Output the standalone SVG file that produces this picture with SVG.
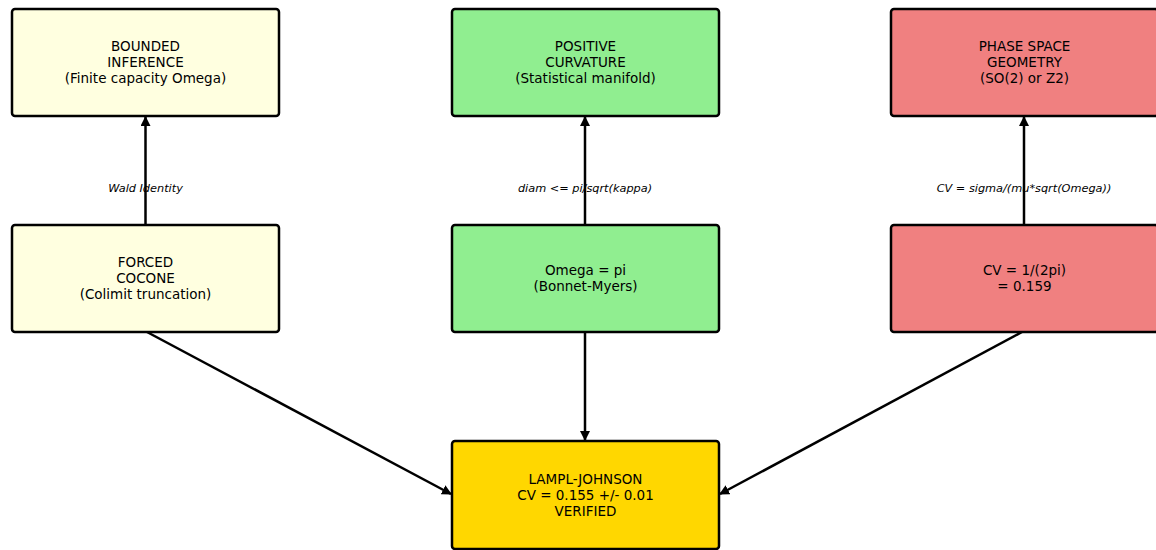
<svg xmlns="http://www.w3.org/2000/svg" width="1156" height="550" viewBox="0 0 1156 550">
<style>
.box{stroke:#000;stroke-width:2.5}
.t{font-family:"DejaVu Sans",sans-serif;font-size:13.5px;fill:#000;text-anchor:middle}
.l{font-family:"DejaVu Sans",sans-serif;font-size:11.3px;font-style:italic;fill:#000;text-anchor:middle}
.c{stroke:#000;stroke-width:2.5;fill:none;marker-end:url(#ah)}
</style>
<defs>
<marker id="ah" viewBox="0 0 10 10" refX="9" refY="5" markerWidth="4" markerHeight="4" orient="auto" markerUnits="strokeWidth">
<path d="M0,0 L10,5 L0,10 z" fill="#000"/>
</marker>
</defs>
<rect width="1156" height="550" fill="#fff"/>
<g id="connectors">
<line class="c" x1="145.5" y1="225" x2="145.5" y2="117"/>
<line class="c" x1="585" y1="225" x2="585" y2="117"/>
<line class="c" x1="1024" y1="225" x2="1024" y2="117"/>
<line class="c" x1="147" y1="332" x2="451" y2="494"/>
<line class="c" x1="585" y1="332" x2="585" y2="440"/>
<line class="c" x1="1022" y1="332" x2="720" y2="494"/>
<text class="l" x="145.5" y="192">Wald Identity</text>
<text class="l" x="585" y="192">diam &lt;= pi/sqrt(kappa)</text>
<text class="l" x="1024" y="192">CV = sigma/(mu*sqrt(Omega))</text>
</g>
<g id="bounded">
<rect class="box" x="12" y="9" width="267" height="107" rx="3" fill="#FFFFE0"/>
<text class="t" x="145.5" y="51">BOUNDED</text>
<text class="t" x="145.5" y="67">INFERENCE</text>
<text class="t" x="145.5" y="83">(Finite capacity Omega)</text>
</g>
<g id="positive">
<rect class="box" x="452" y="9" width="267" height="107" rx="3" fill="#90EE90"/>
<text class="t" x="585.5" y="51">POSITIVE</text>
<text class="t" x="585.5" y="67">CURVATURE</text>
<text class="t" x="585.5" y="83">(Statistical manifold)</text>
</g>
<g id="phase">
<rect class="box" x="891" y="9" width="267" height="107" rx="3" fill="#F08080"/>
<text class="t" x="1024.5" y="51">PHASE SPACE</text>
<text class="t" x="1024.5" y="67">GEOMETRY</text>
<text class="t" x="1024.5" y="83">(SO(2) or Z2)</text>
</g>
<g id="forced">
<rect class="box" x="12" y="225" width="267" height="107" rx="3" fill="#FFFFE0"/>
<text class="t" x="145.5" y="267">FORCED</text>
<text class="t" x="145.5" y="283">COCONE</text>
<text class="t" x="145.5" y="299">(Colimit truncation)</text>
</g>
<g id="omega">
<rect class="box" x="452" y="225" width="267" height="107" rx="3" fill="#90EE90"/>
<text class="t" x="585.5" y="275">Omega = pi</text>
<text class="t" x="585.5" y="291">(Bonnet-Myers)</text>
</g>
<g id="cv">
<rect class="box" x="891" y="225" width="267" height="107" rx="3" fill="#F08080"/>
<text class="t" x="1024.5" y="275">CV = 1/(2pi)</text>
<text class="t" x="1024.5" y="291">= 0.159</text>
</g>
<g id="lampl">
<rect class="box" x="452" y="441" width="267" height="108" rx="3" fill="#FFD700"/>
<text class="t" x="585.5" y="484">LAMPL-JOHNSON</text>
<text class="t" x="585.5" y="500">CV = 0.155 +/- 0.01</text>
<text class="t" x="585.5" y="516">VERIFIED</text>
</g>
</svg>
